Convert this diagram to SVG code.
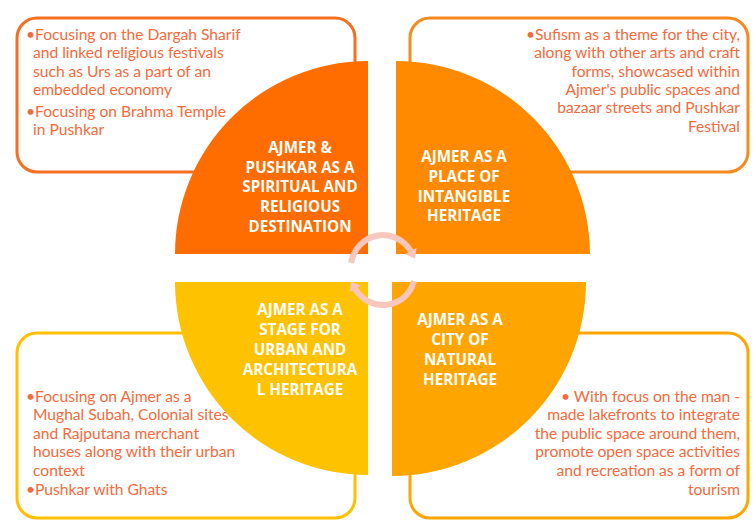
<svg xmlns="http://www.w3.org/2000/svg" width="756" height="520" viewBox="0 0 756 520">
<defs>
<style>
.box{fill:#fff;stroke-width:3}
.body{font-family:Lato,"Liberation Sans",sans-serif;font-size:15.6px;fill:#F46A3C}
.title{font-family:"Open Sans","Liberation Sans",sans-serif;font-weight:bold;font-size:15.2px;fill:#fff;text-anchor:middle}
.r{text-anchor:end}
.arc{fill:none;stroke:#F8C6BC;stroke-width:6}
.head{fill:#F8C6BC}
</style>
</defs>
<rect width="756" height="520" fill="#fff"/>
<g id="box-tl"><rect class="box" x="17" y="18" width="338" height="154" rx="20" stroke="#F47020"/>
<text class="body"><tspan x="26" y="40">•Focusing on the Dargah Sharif</tspan><tspan x="33" y="58">and linked religious festivals</tspan><tspan x="33" y="77">such as Urs as a part of an</tspan><tspan x="33" y="95">embedded economy</tspan><tspan x="26" y="117">•Focusing on Brahma Temple</tspan><tspan x="33" y="135">in Pushkar</tspan></text></g>
<g id="box-tr"><rect class="box" x="410" y="18" width="338" height="154" rx="20" stroke="#F78A1E"/>
<text class="body r"><tspan x="740" y="40">•Sufism as a theme for the city,</tspan><tspan x="740" y="58">along with other arts and craft</tspan><tspan x="740" y="77">forms, showcased within</tspan><tspan x="740" y="95">Ajmer's public spaces and</tspan><tspan x="740" y="113">bazaar streets and Pushkar</tspan><tspan x="740" y="132">Festival</tspan></text></g>
<g id="box-bl"><rect class="box" x="17" y="333" width="338" height="185" rx="20" stroke="#FFC000"/>
<text class="body"><tspan x="26" y="402">•Focusing on Ajmer as a</tspan><tspan x="33" y="420">Mughal Subah, Colonial sites</tspan><tspan x="33" y="439">and Rajputana merchant</tspan><tspan x="33" y="457">houses along with their urban</tspan><tspan x="33" y="476">context</tspan><tspan x="26" y="495">•Pushkar with Ghats</tspan></text></g>
<g id="box-br"><rect class="box" x="410" y="333" width="338" height="185" rx="20" stroke="#FFA500"/>
<text class="body r"><tspan x="740" y="402">•  With focus on the man -</tspan><tspan x="740" y="420">made lakefronts to integrate</tspan><tspan x="740" y="439">the public space around them,</tspan><tspan x="740" y="457">promote open space activities</tspan><tspan x="740" y="476">and recreation as a form of</tspan><tspan x="740" y="495">tourism</tspan></text></g>
<g id="q-tl"><path d="M368,254 L175,254 A193,193 0 0 1 368,61 Z" fill="#FF6C00"/>
<text class="title"><tspan x="300" y="153">AJMER &amp;</tspan><tspan x="300" y="173">PUSHKAR AS A</tspan><tspan x="300" y="192">SPIRITUAL AND</tspan><tspan x="300" y="212">RELIGIOUS</tspan><tspan x="300" y="232">DESTINATION</tspan></text></g>
<g id="q-tr"><path d="M396,254 L396,61 A194,194 0 0 1 590,254 Z" fill="#FF8A00"/>
<text class="title"><tspan x="464" y="162">AJMER AS A</tspan><tspan x="464" y="182">PLACE OF</tspan><tspan x="464" y="202">INTANGIBLE</tspan><tspan x="464" y="221">HERITAGE</tspan></text></g>
<g id="q-bl"><path d="M368,282 L368,475 A193,193 0 0 1 175,282 Z" fill="#FFC200"/>
<text class="title"><tspan x="300" y="315">AJMER AS A</tspan><tspan x="300" y="335">STAGE FOR</tspan><tspan x="300" y="355">URBAN AND</tspan><tspan x="300" y="375">ARCHITECTURA</tspan><tspan x="300" y="395">L HERITAGE</tspan></text></g>
<g id="q-br"><path d="M392,282 L586,282 A194,194 0 0 1 392,476 Z" fill="#FFA500"/>
<text class="title"><tspan x="460" y="325">AJMER AS A</tspan><tspan x="460" y="345">CITY OF</tspan><tspan x="460" y="365">NATURAL</tspan><tspan x="460" y="385">HERITAGE</tspan></text></g>
<g id="connectors">
<path class="arc" d="M351.3,263 A32,32 0 0 1 410.7,251"/>
<polygon class="head" points="416.5,247.7 404.9,254.3 415,258.5"/>
<path class="arc" d="M414,281 A32,32 0 0 1 355.3,289"/>
<polygon class="head" points="349.5,292.3 361.1,285.7 351,281.5"/>
</g>
</svg>
